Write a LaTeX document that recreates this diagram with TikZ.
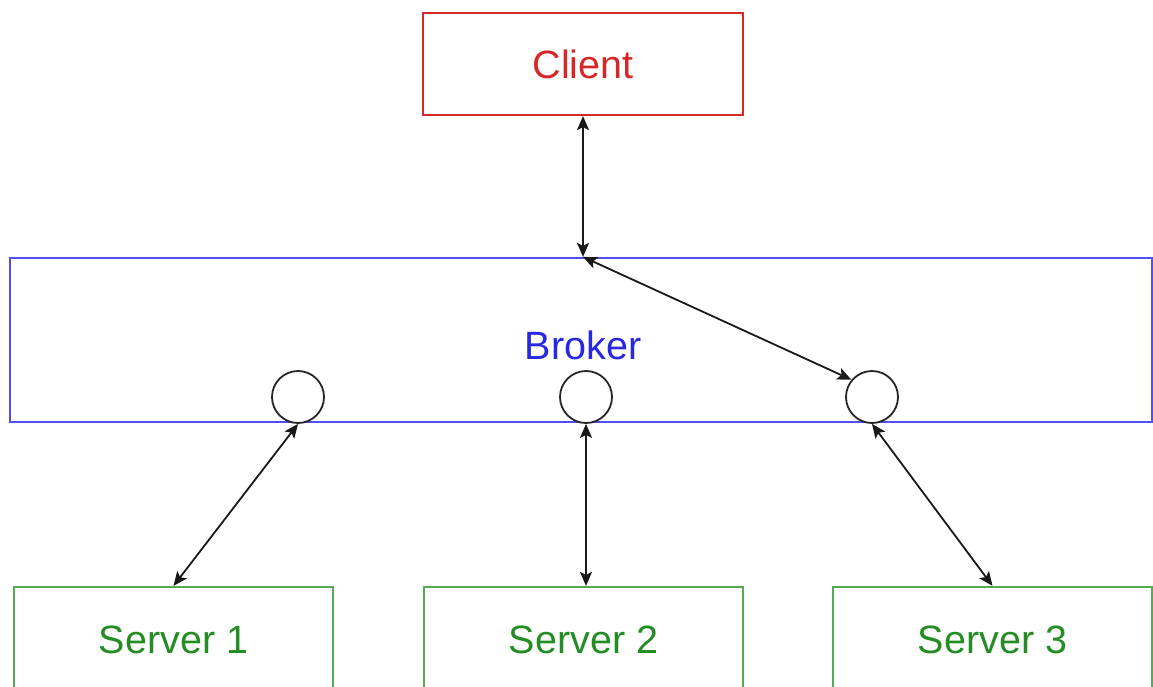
\documentclass[tikz,border=0pt]{standalone}
\usepackage{fontspec}
\setmainfont{Liberation Sans}
\usetikzlibrary{arrows.meta}
\definecolor{cred}{RGB}{214,40,40}
\definecolor{cblueline}{RGB}{80,80,245}
\definecolor{cbluetext}{RGB}{40,40,225}
\definecolor{cgreenline}{RGB}{85,170,85}
\definecolor{cgreentext}{RGB}{35,140,35}
\begin{document}
\begin{tikzpicture}[x=1pt,y=-1pt,
  boxbase/.style={draw,line width=2.2pt,inner sep=0pt,font=\fontsize{39.5}{40}\selectfont},
  clientbox/.style={boxbase,draw=cred,text=cred,minimum width=320pt,minimum height=102pt},
  brokerbox/.style={boxbase,draw=cblueline,text=cbluetext,minimum width=1142pt,minimum height=164pt},
  serverbox/.style={boxbase,draw=cgreenline,text=cgreentext,minimum width=319pt,minimum height=106pt},
  port/.style={circle,draw=black!85,line width=1.8pt,fill=white,minimum size=52pt,inner sep=0pt},
  link/.style={draw=black!90,line width=1.8pt,{Stealth[length=14pt,width=12pt,inset=3pt]}-{Stealth[length=14pt,width=12pt,inset=3pt]}}
]
\useasboundingbox (0,0) rectangle (1153,686);
\clip (0,0) rectangle (1153,686);
\node[clientbox] (client) at (583,64) {Client};
\node[brokerbox] (broker) at (581,340) {};
\node[text=cbluetext,font=\fontsize{39.5}{40}\selectfont] (blabel) at (583,345) {Broker};
\node[port] (c1) at (298,397) {};
\node[port] (c2) at (586,397) {};
\node[port] (c3) at (872,397) {};
\node[serverbox] (s1) at (173.5,640) {Server 1};
\node[serverbox] (s2) at (583.5,640) {Server 2};
\node[serverbox] (s3) at (992.5,640) {Server 3};
\coordinate (bt) at (broker.north -| client.south);
\draw[link] (client.south) -- (bt);
\draw[link] (bt) -- (c3.140);
\draw[link] (c1.south) -- (s1.north);
\draw[link] (c2.south) -- (s2.north -| c2.south);
\draw[link] (c3.south) -- (s3.north);
\end{tikzpicture}
\end{document}
